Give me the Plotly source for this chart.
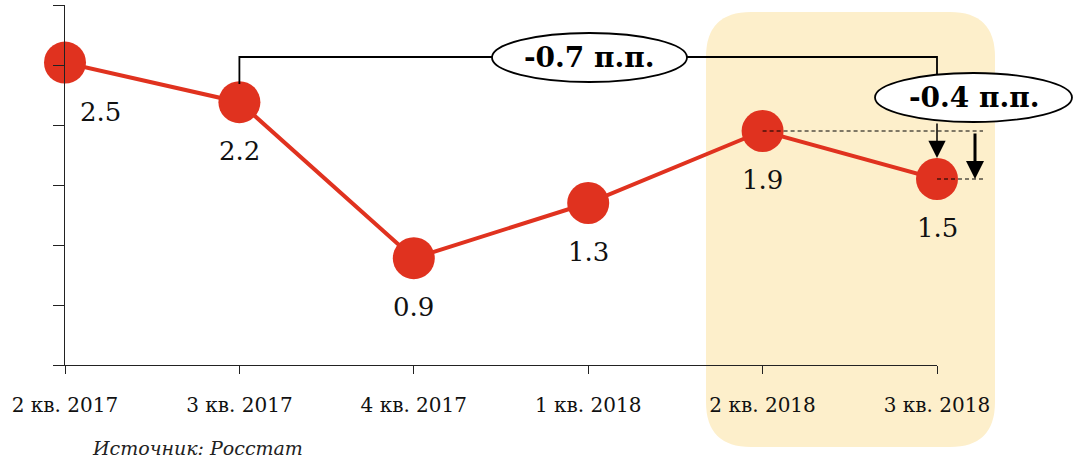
import plotly.graph_objects as go

# data
quarters = ['2 кв. 2017', '3 кв. 2017', '4 кв. 2017', '1 кв. 2018', '2 кв. 2018', '3 кв. 2018']
growth = [2.52, 2.19, 0.89, 1.35, 1.95, 1.55]
growth_labels = ['2.5', '2.2', '0.9', '1.3', '1.9', '1.5']
delta_year = '-0.7 п.п.'
delta_quarter = '-0.4 п.п.'
source_text = 'Источник: Росстат'

RED = '#E0321F'
YELLOW = '#FDEFCB'
FONT = 'DejaVu Serif'

W, H = 1074, 464
L, R, T, B = 65, 137, 5, 99
PW, PH = W - L - R, H - T - B
X_MAX, Y_MAX = 5, 3.0


def xpap(v):
    return v / X_MAX


def ypap(v):
    return v / Y_MAX


def pxx(p):
    return (p - L) / PW


def pxy(p):
    return (H - B - p) / PH


def rounded_rect(x0, y0, x1, y1, r):
    rx, ry = r / PW, r / PH
    a, b, c, d = pxx(x0), pxy(y1), pxx(x1), pxy(y0)
    return (f"M{a+rx},{d} L{c-rx},{d} Q{c},{d} {c},{d-ry} L{c},{b+ry} Q{c},{b} {c-rx},{b} "
            f"L{a+rx},{b} Q{a},{b} {a},{b+ry} L{a},{d-ry} Q{a},{d} {a+rx},{d} Z")


x = list(range(len(quarters)))

fig = go.Figure()
fig.add_trace(go.Scatter(
    x=x, y=growth, mode='lines+markers',
    line=dict(color=RED, width=4),
    marker=dict(size=42, color=RED, line=dict(width=0)),
    cliponaxis=False, showlegend=False, hoverinfo='skip'))

shapes = []
# highlight for 2018 Q2-Q3
shapes.append(dict(type='path', xref='paper', yref='paper', layer='below',
                   path=rounded_rect(706, 12, 995, 447, 45),
                   fillcolor=YELLOW, line=dict(width=0)))
# bracket from 3 кв. 2017 to 3 кв. 2018
shapes.append(dict(type='path', xref='paper', yref='paper',
                   path=f"M{xpap(1)},{pxy(84)} L{xpap(1)},{pxy(57)} L{xpap(5)},{pxy(57)} L{xpap(5)},{pxy(90)}",
                   line=dict(color='black', width=1.8)))
# ellipses
shapes.append(dict(type='circle', xref='paper', yref='paper',
                   x0=pxx(492), x1=pxx(687), y0=pxy(82), y1=pxy(33),
                   fillcolor='white', line=dict(color='black', width=1.8)))
shapes.append(dict(type='circle', xref='paper', yref='paper',
                   x0=pxx(875), x1=pxx(1072), y0=pxy(122), y1=pxy(73),
                   fillcolor='white', line=dict(color='black', width=1.8)))
# dashed guides
shapes.append(dict(type='line', xref='paper', yref='paper',
                   x0=xpap(4), x1=pxx(983), y0=ypap(growth[4]), y1=ypap(growth[4]),
                   line=dict(color='black', width=1, dash='4px,3px')))
shapes.append(dict(type='line', xref='paper', yref='paper',
                   x0=xpap(5), x1=pxx(983), y0=ypap(growth[5]), y1=ypap(growth[5]),
                   line=dict(color='black', width=1, dash='4px,3px')))

annotations = []
for i, (v, lab) in enumerate(zip(growth, growth_labels)):
    annotations.append(dict(x=xpap(i), y=ypap(v), xref='paper', yref='paper', text=lab,
                            xanchor='center', yanchor='middle',
                            showarrow=False, xshift=35 if i == 0 else 0, yshift=-49,
                            font=dict(family=FONT, size=26, color='#111')))

annotations.append(dict(x=pxx(589), y=pxy(57.5), xref='paper', yref='paper', text=f'<b>{delta_year}</b>',
                        xanchor='center', yanchor='middle',
                        showarrow=False, font=dict(family=FONT, size=28, color='black')))
annotations.append(dict(x=pxx(974), y=pxy(97.5), xref='paper', yref='paper', text=f'<b>{delta_quarter}</b>',
                        xanchor='center', yanchor='middle',
                        showarrow=False, font=dict(family=FONT, size=28, color='black')))
# arrow from the -0.4 ellipse down to last point
annotations.append(dict(x=xpap(5), y=pxy(158), xref='paper', yref='paper', text='',
                        showarrow=True, ax=0, ay=-36, arrowhead=2, arrowsize=2.3,
                        arrowwidth=1.5, arrowcolor='black'))
# thick arrow showing the drop
annotations.append(dict(x=pxx(975), y=ypap(growth[5]), xref='paper', yref='paper', text='',
                        showarrow=True, ax=0, ay=-47, arrowhead=2, arrowsize=1.2,
                        arrowwidth=3, arrowcolor='black'))
annotations.append(dict(x=pxx(90), y=pxy(448), xref='paper', yref='paper', text=source_text,
                        showarrow=False, xanchor='left', yanchor='middle',
                        font=dict(family=FONT, size=19, style='italic', color='#222')))

fig.update_layout(
    width=W, height=H,
    margin=dict(l=L, r=R, t=T, b=B),
    paper_bgcolor='white', plot_bgcolor='rgba(0,0,0,0)',
    shapes=shapes, annotations=annotations,
    showlegend=False,
)
fig.update_xaxes(range=[0, X_MAX], tickvals=x, ticktext=quarters,
                 ticks='outside', ticklen=8, tickcolor='#222', tickwidth=1,
                 showline=True, linecolor='#222', linewidth=1,
                 showgrid=False, zeroline=False, ticklabelstandoff=14,
                 tickfont=dict(family=FONT, size=20, color='#111'))
fig.update_yaxes(range=[0, Y_MAX], tickvals=[0, 0.5, 1, 1.5, 2, 2.5, 3],
                 ticks='outside', ticklen=11, tickcolor='#222', tickwidth=1,
                 showline=True, linecolor='#222', linewidth=1,
                 showgrid=False, zeroline=False, showticklabels=False)

fig.write_html("out.html", config={'displayModeBar': False},
               post_script="document.body.style.margin='0px';")
